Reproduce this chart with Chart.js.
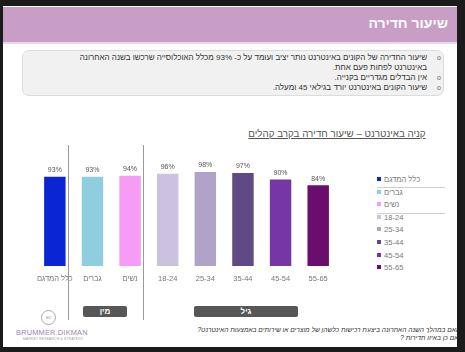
<!DOCTYPE html>
<html>
<head>
<meta charset="utf-8">
<script src="https://cdn.jsdelivr.net/npm/chart.js@4.4.0/dist/chart.umd.min.js"></script>
<style>
  body { margin:0; width:465px; height:352px; background:#1b1b1b; font-family:"Liberation Sans","DejaVu Sans",sans-serif; overflow:hidden; }
  #slide { position:absolute; left:3px; top:6px; width:454px; height:341px; background:#fff; overflow:hidden; }
  .abs { position:absolute; }
  #header { left:0; top:1px; width:454px; height:35px; background:#c99ec6; border-bottom:2px solid #ead6e8; }
  #title { right:9px; top:8px; color:#fff; font-size:14px; font-weight:bold; direction:rtl; }
  #box { left:19px; top:44px; width:420px; height:44px; background:#f1f1f1; border:1px solid #dcdcdc; border-radius:7px; }
  #box ul { margin:0; padding:0; list-style:none; direction:rtl; font-size:8px; color:#333; position:absolute; right:16px; top:2px; width:360px; line-height:10px; }
  #box li { position:relative; }
  #box li:before { content:"o"; position:absolute; right:-14px; top:0; color:#666; font-size:7px; }
  #ctitle { left:242px; top:122px; width:184px; text-align:center; font-size:9.8px; color:#555; text-decoration:underline; direction:rtl; white-space:nowrap; }
  .vline { width:1px; background:#9a9a9a; top:139px; height:175px; }
  .tag { background:#575757; color:#fff; font-weight:bold; font-size:8px; text-align:center; height:11px; line-height:11px; border-radius:2px; }
  #legend { left:374px; top:168px; width:70px; font-size:7.6px; color:#7a7a7a; }
  .li { position:absolute; left:0; height:10px; line-height:10px; white-space:nowrap; }
  .li span.sw { display:inline-block; width:4px; height:4px; margin-right:3px; vertical-align:1px; }
  .sep { position:absolute; left:0; width:68px; height:1px; background:#cfcfcf; }
  #q { right:-3px; top:320px; font-size:6.6px; font-style:italic; color:#333; direction:rtl; text-align:right; line-height:8px; white-space:nowrap; }
  #logo { left:38px; top:304px; width:13px; height:13px; border:1px solid #aaa; border-radius:50%; font-size:4px; text-align:center; line-height:13px; color:#999; }
  #brand { left:13px; top:322px; font-size:7.4px; color:#9a84b4; letter-spacing:0.2px; }
  #sub { left:20px; top:331px; font-size:3.2px; color:#999; letter-spacing:0.3px; }
</style>
</head>
<body>
<div id="slide">
  <div id="header" class="abs"><div id="title" class="abs">שיעור חדירה</div></div>
  <div id="box" class="abs">
    <ul>
      <li>שיעור החדירה של הקונים באינטרנט נותר יציב ועומד על כ- 93% מכלל האוכלוסייה שרכשו בשנה האחרונה באינטרנט לפחות פעם אחת.</li>
      <li>אין הבדלים מגדריים בקנייה.</li>
      <li>שיעור הקונים באינטרנט יורד בגילאי 45 ומעלה.</li>
    </ul>
  </div>
  <div id="ctitle" class="abs">קניה באינטרנט – שיעור חדירה בקרב קהלים</div>
  <div class="abs vline" style="left:65px"></div>
  <div class="abs vline" style="left:140px"></div>
  <div class="abs tag" style="left:80px; top:300px; width:44px;">מין</div>
  <div class="abs tag" style="left:191px; top:300px; width:104px;">גיל</div>
  <div id="legend" class="abs"></div>
  <div id="logo" class="abs">BD</div>
  <div id="brand" class="abs">BRUMMER.DIKMAN</div>
  <div id="sub" class="abs">MARKET RESEARCH &amp; STRATEGY</div>
  <div id="q" class="abs">האם במהלך השנה האחרונה ביצעת רכישות כלשהן של מוצרים או שירותים באמצעות האינטרנט?<br>ואם כן באיזו תדירות ?</div>
  <div class="abs" style="left:26px; top:154px; width:308px; height:131px;">
    <canvas id="bars"></canvas>
  </div>
</div>
<script>
var categories = ['כלל המדגם', 'גברים', 'נשים', '18-24', '25-34', '35-44', '45-54', '55-65'];
var penetration = [93, 93, 94, 96, 98, 97, 90, 84];
var barColors = ['#0a25d4', '#8fcde0', '#f69cf4', '#ccc1de', '#b1a2c9', '#5f4a85', '#7636a6', '#6a0d6d'];

// legend built from the same arrays
var leg = document.getElementById('legend');
categories.forEach(function (c, i) {
    var d = document.createElement('div');
    d.className = 'li';
    d.style.top = (1 + i * 12.6) + 'px';
    d.innerHTML = '<span class="sw" style="background:' + barColors[i] + '"></span>' + c;
    leg.appendChild(d);
});
[13, 39].forEach(function (t) {
    var s = document.createElement('div');
    s.className = 'sep';
    s.style.top = t + 'px';
    leg.appendChild(s);
});

var valueLabels = {
    id: 'valueLabels',
    afterDatasetsDraw: function (chart) {
        var ctx = chart.ctx;
        var meta = chart.getDatasetMeta(0);
        ctx.save();
        ctx.font = '7px "Liberation Sans", "DejaVu Sans", sans-serif';
        ctx.fillStyle = '#555';
        ctx.textAlign = 'center';
        ctx.textBaseline = 'bottom';
        meta.data.forEach(function (bar, i) {
            ctx.fillText(penetration[i] + '%', bar.x, bar.y - 3);
        });
        ctx.restore();
    }
};

var ctx = document.getElementById('bars').getContext('2d');
var chart = new Chart(ctx, {
    type: 'bar',
    data: {
        labels: categories,
        datasets: [{
            data: penetration,
            backgroundColor: barColors,
            borderWidth: 0,
            categoryPercentage: 1,
            barPercentage: 0.57
        }]
    },
    options: {
        responsive: true,
        maintainAspectRatio: false,
        animation: false,
        layout: { padding: { top: 10, left: 0, right: 0, bottom: 0 } },
        scales: {
            x: {
                grid: { display: false, drawTicks: false },
                border: { display: false },
                ticks: {
                    color: '#777',
                    padding: 8,
                    maxRotation: 0,
                    minRotation: 0,
                    autoSkip: false,
                    font: { size: 7.5, family: '"Liberation Sans", "DejaVu Sans", sans-serif' }
                }
            },
            y: { display: false, min: 0, max: 100 }
        },
        plugins: {
            legend: { display: false },
            tooltip: { enabled: false }
        }
    },
    plugins: [valueLabels]
});
</script>
</body>
</html>
